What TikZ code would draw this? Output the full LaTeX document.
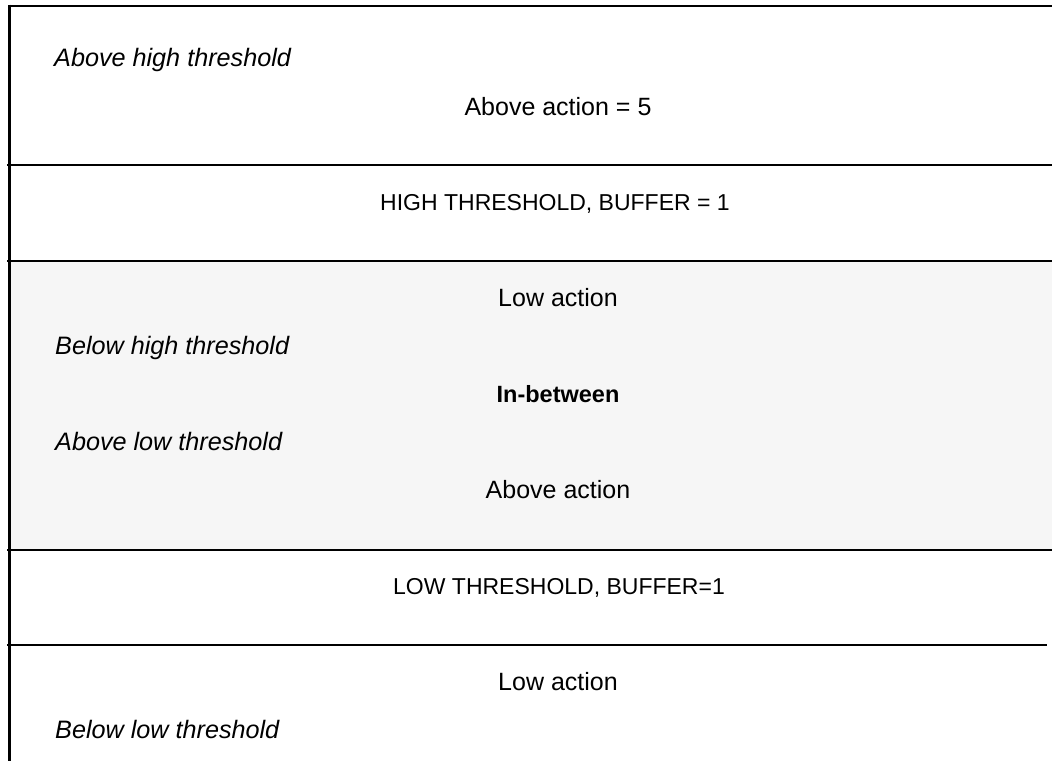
\documentclass[tikz,border=0pt]{standalone}
\usepackage{fontspec}
\setmainfont{Liberation Sans}
\definecolor{bandgrey}{RGB}{246,246,246}
\tikzset{
  rule/.style={line width=2pt, black},
  leftlabel/.style={anchor=base west, inner sep=0pt, font=\fontsize{25.2}{29}\selectfont\itshape},
  midlabel/.style={anchor=base, inner sep=0pt, font=\fontsize{25}{29}\selectfont},
  caplabel/.style={anchor=base, inner sep=0pt, font=\fontsize{23}{27}\selectfont},
  boldlabel/.style={anchor=base, inner sep=0pt, font=\fontsize{23.5}{27}\selectfont\bfseries}
}
\begin{document}
\begin{tikzpicture}[x=1pt,y=-1pt]
\useasboundingbox (0,0) rectangle (1052,761);
\fill[white] (0,0) rectangle (1052,761);
% grey band
\fill[bandgrey] (9,262) rectangle (1052,549);
% rules
\draw[line width=3pt] (9.5,4.7) -- (9.5,761);
\draw[rule] (8,5.7) -- (1052,5.7);
\draw[rule] (7,165.3) -- (1052,165.3);
\draw[rule] (7,261.3) -- (1052,261.3);
\draw[rule] (7,549.5) -- (1052,549.5);
\draw[rule] (7,645.3) -- (1046.7,645.3);
% texts
\node[leftlabel] (aht) at (54,66) {Above high threshold};
\node[midlabel]  (aa5) at (558,115) {Above action = 5};
\node[caplabel]  (hth) at (555,210) {HIGH THRESHOLD, BUFFER = 1};
\node[midlabel]  (la1) at (558,306.7) {Low action};
\node[leftlabel] (bht) at (55,354) {Below high threshold};
\node[boldlabel] (inb) at (558,402.7) {In-between};
\node[leftlabel] (alt) at (55,450.7) {Above low threshold};
\node[midlabel]  (aa)  at (558,498.3) {Above action};
\node[caplabel]  (lth) at (559,594) {LOW THRESHOLD, BUFFER=1};
\node[midlabel]  (la2) at (558,690) {Low action};
\node[leftlabel] (blt) at (55,738.3) {Below low threshold};
\end{tikzpicture}
\end{document}
